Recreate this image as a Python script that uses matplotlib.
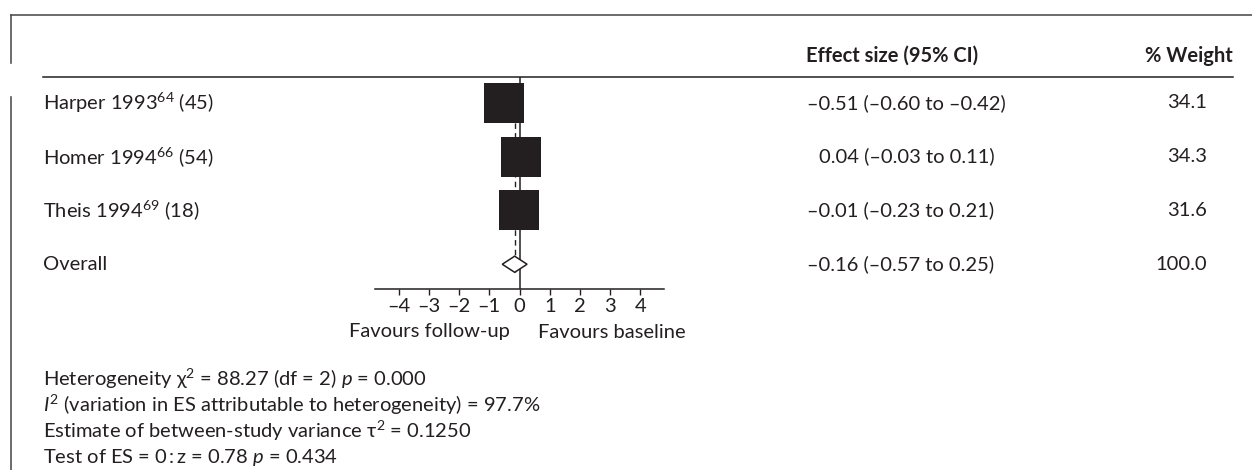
import numpy as np
import matplotlib
matplotlib.use("Agg")
import matplotlib.pyplot as plt
from matplotlib.transforms import blended_transform_factory
from matplotlib.lines import Line2D

plt.rcParams['font.family'] = ['Lato', 'DejaVu Sans']
plt.rcParams['mathtext.fontset'] = 'custom'
plt.rcParams['mathtext.rm'] = 'Lato'
plt.rcParams['mathtext.it'] = 'Lato:italic'
plt.rcParams['mathtext.bf'] = 'Lato:bold'

# study data
studies = ["Harper 1993", "Homer 1994", "Theis 1994"]
refs = ["64", "66", "69"]
n_pts = [45, 54, 18]
es = [-0.51, 0.04, -0.01]
ci_lo = [-0.60, -0.03, -0.23]
ci_hi = [-0.42, 0.11, 0.21]
weights = [34.1, 34.3, 31.6]

# pooled estimate
es_all = -0.16
lo_all = -0.57
hi_all = 0.25
w_all = 100.0

xticks = [-4, -3, -2, -1, 0, 1, 2, 3, 4]

footer = [
    "Heterogeneity \u03c7$^2$ = 88.27 (df = 2) $\\mathit{p}$ = 0.000",
    "$\\mathit{I}^2$ (variation in ES attributable to heterogeneity) = 97.7%",
    "Estimate of between-study variance \u03c4$^2$ = 0.1250",
    "Test of ES = 0\u2009:\u2009z = 0.78 $\\mathit{p}$ = 0.434",
]

W, H = 1252, 470
ink = "#231f20"
fs = 14.5

def fx(px):
    return px / W

def fy(py):
    return 1 - py / H

def num(v):
    return f"{v:.2f}".replace("-", "\u2013")

fig = plt.figure(figsize=(W / 100, H / 100), dpi=100)
fig.patch.set_facecolor("white")

# plot region: x axis line at y=289px, header rule at y=77px
ax = fig.add_axes([fx(375), fy(289), fx(664 - 375), (289 - 77) / H])
ax.set_xlim(-4.78, 4.78)
ax.set_ylim(3.46, -0.48)
for s in ["top", "left", "right"]:
    ax.spines[s].set_visible(False)
ax.spines["bottom"].set_color(ink)
ax.spines["bottom"].set_linewidth(1.1)
ax.set_yticks([])
ax.set_xticks(xticks)
ax.set_xticklabels([str(t).replace("-", "\u2013") for t in xticks], fontsize=fs, color=ink)
ax.tick_params(axis="x", direction="out", length=4, width=1.0, color=ink, pad=2.5)
ax.patch.set_alpha(0)

rows = np.arange(len(studies))

# line of no effect and pooled estimate
ax.axvline(0, color=ink, lw=1.1, zorder=1)
ax.vlines(es_all, -0.35, 3.15, colors=ink, lw=1.0, linestyles=(0, (4, 3)), zorder=1)

# weighted squares
for r, e, w in zip(rows, es, weights):
    ax.plot(e, r, marker="s", ms=5.04 * np.sqrt(w), color=ink, mec=ink, mew=0, zorder=3)
    ax.plot([ci_lo[r], ci_hi[r]], [r, r], color=ink, lw=1.0, zorder=2)

# pooled diamond
r_all = len(studies)
ax.fill([lo_all, es_all, hi_all, es_all], [r_all, r_all - 0.15, r_all, r_all + 0.15],
        facecolor="white", edgecolor=ink, lw=1.1, zorder=4)

trans = blended_transform_factory(fig.transFigure, ax.transData)

labels = [f"{s}$^{{{rf}}}$ ({n})" for s, rf, n in zip(studies, refs, n_pts)] + ["Overall"]
all_es = es + [es_all]
all_lo = ci_lo + [lo_all]
all_hi = ci_hi + [hi_all]
all_w = weights + [w_all]

for r in range(len(labels)):
    ax.text(fx(43), r, labels[r], transform=trans, fontsize=fs, color=ink, va="center", ha="left")
    x0 = 807 if all_es[r] < 0 else 819
    ax.text(fx(x0), r, f"{num(all_es[r])} ({num(all_lo[r])} to {num(all_hi[r])})",
            transform=trans, fontsize=fs, color=ink, va="center", ha="left")
    ax.text(fx(1207), r, f"{all_w[r]:.1f}", transform=trans, fontsize=fs, color=ink,
            va="center", ha="right")

# column headers
fig.text(fx(806), fy(56), "Effect size (95% CI)", fontsize=fs, weight="bold", color=ink, va="center")
fig.text(fx(1233), fy(56), "% Weight", fontsize=fs, weight="bold", color=ink, va="center", ha="right")

# header rule
fig.add_artist(Line2D([fx(43), fx(1233)], [fy(77), fy(77)], color=ink, lw=1.1))

# frame
fig.add_artist(Line2D([fx(11), 1], [fy(15), fy(15)], color="#444444", lw=1.1))
fig.add_artist(Line2D([fx(11), fx(11)], [fy(15), fy(63)], color="#444444", lw=1.1))
fig.add_artist(Line2D([fx(11), fx(11)], [fy(97), 0], color="#444444", lw=1.1))

# favours labels
fig.text(fx(510), fy(332), "Favours follow-up", fontsize=fs, color=ink, va="center", ha="right")
fig.text(fx(538), fy(332), "Favours baseline", fontsize=fs, color=ink, va="center", ha="left")

# footer statistics
for i, line in enumerate(footer):
    fig.text(fx(43), fy(379 + 26 * i), line, fontsize=fs, color=ink, va="center", ha="left")

fig.savefig("out.png", dpi=100, facecolor="white")
